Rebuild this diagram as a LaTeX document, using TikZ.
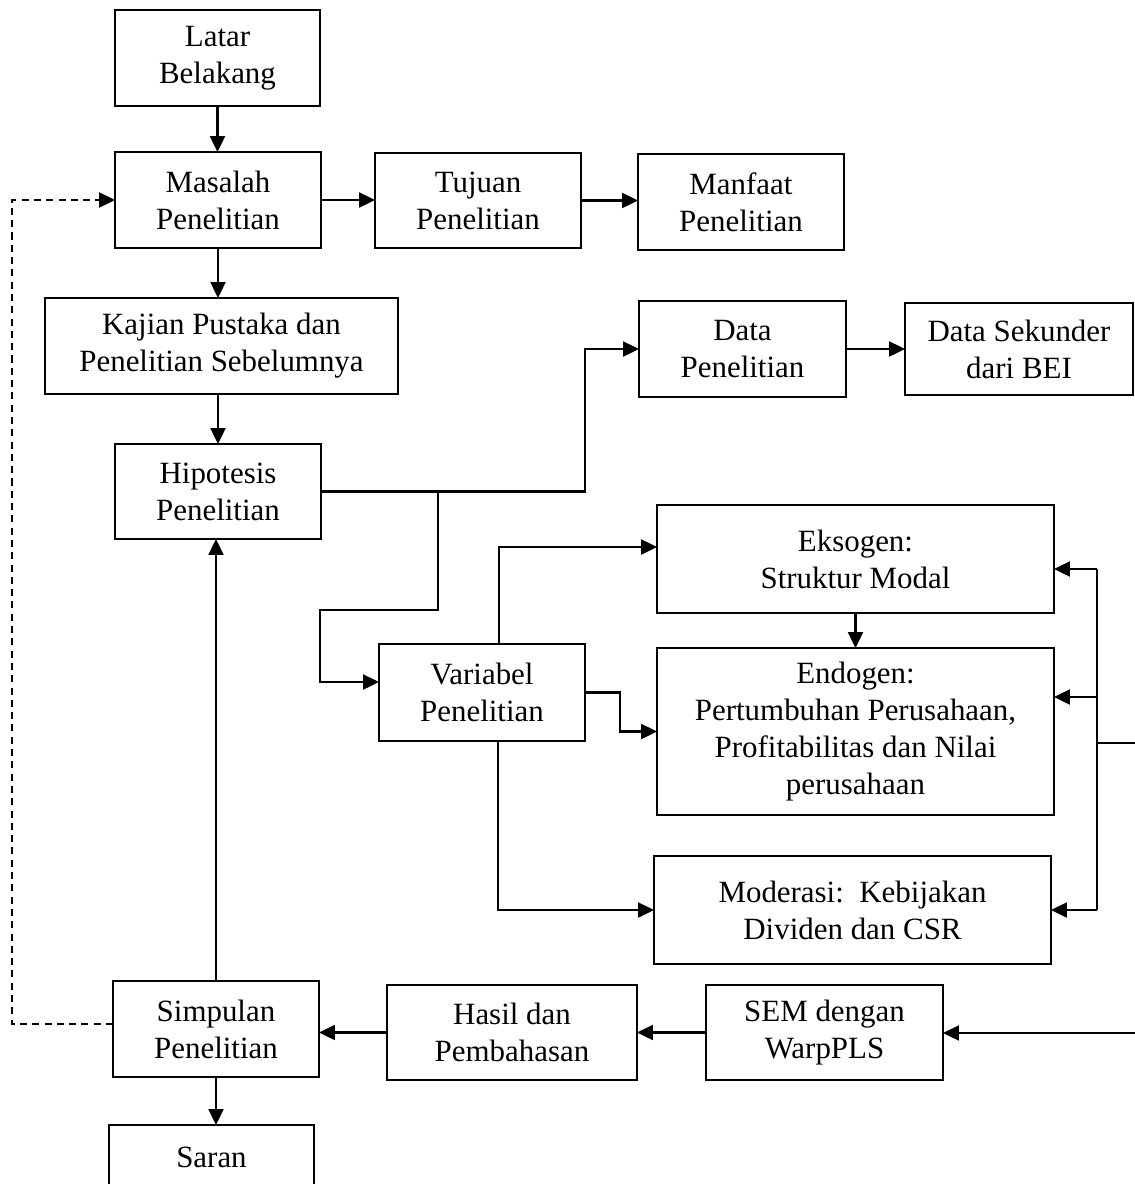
\documentclass[tikz,border=0pt]{standalone}
\usepackage{fontspec}
\setmainfont{Liberation Serif}
\usetikzlibrary{arrows.meta}

\begin{document}
\begin{tikzpicture}[x=0.02cm, y=-0.02cm, line width=1.3pt,
  every node/.style={draw, align=center, inner sep=0pt, outer sep=0pt, font=\fontsize{17.6}{21}\selectfont},
  arr/.style={-{Triangle[length=0.32cm,width=0.3cm]}}]
\useasboundingbox (0,0) rectangle (1134,1184);

\node[minimum width=4.1cm, minimum height=1.92cm] (latar) at (217.5,58) {Latar\\Belakang};
\node[minimum width=4.12cm, minimum height=1.92cm] (masalah) at (218,200) {Masalah\\Penelitian};
\node[minimum width=4.12cm, minimum height=1.9cm] (tujuan) at (478,200.5) {Tujuan\\Penelitian};
\node[minimum width=4.12cm, minimum height=1.92cm] (manfaat) at (741,202) {Manfaat\\Penelitian};
\node[minimum width=7.06cm, minimum height=1.92cm] (kajian) at (221.5,346) {Kajian Pustaka dan\\Penelitian Sebelumnya};
\node[minimum width=4.12cm, minimum height=1.9cm] (hipotesis) at (218,491.5) {Hipotesis\\Penelitian};
\node[minimum width=4.14cm, minimum height=1.92cm] (data) at (742.5,349) {Data\\Penelitian};
\node[minimum width=4.56cm, minimum height=1.84cm] (sekunder) at (1019,349) {Data Sekunder\\dari BEI};

\node[minimum width=7.94cm, minimum height=2.16cm] (eksogen) at (855.5,559) {Eksogen:\\Struktur Modal};
\node[minimum width=7.94cm, minimum height=3.34cm] (endogen) at (855.5,731.5) {Endogen:\\Pertumbuhan Perusahaan,\\Profitabilitas dan Nilai\\perusahaan};
\node[minimum width=4.12cm, minimum height=1.94cm] (variabel) at (482,692.5) {Variabel\\Penelitian};
\node[minimum width=7.94cm, minimum height=2.16cm] (moderasi) at (852.5,910) {Moderasi:\ \ Kebijakan\\Dividen dan CSR};

\node[minimum width=4.12cm, minimum height=1.92cm] (simpulan) at (216,1029) {Simpulan\\Penelitian};
\node[minimum width=5cm, minimum height=1.9cm] (hasil) at (512,1032.5) {Hasil dan\\Pembahasan};
\node[minimum width=4.74cm, minimum height=1.9cm] (sem) at (824.5,1032.5) {SEM dengan\\WarpPLS};
\node[minimum width=4.1cm, minimum height=1.3cm] (saran) at (211.5,1157.5) {Saran};

% junctions
\coordinate (j1) at (585,491.5);
\coordinate (j2) at (438,491.5);
\coordinate (j3) at (320,610);
\coordinate (b1) at (1097,569);
\coordinate (b2) at (1097,697);
\coordinate (b3) at (1097,910);
\coordinate (out) at (1140,743);
\coordinate (in) at (1140,1033);
\coordinate (dl) at (12,600);

\draw[arr] (latar.south) -- (latar.south |- masalah.north);
\draw[arr] (masalah.east) -- (masalah.east -| tujuan.west);
\draw[arr] (tujuan.east) -- (tujuan.east -| manfaat.west);
\draw[arr] (masalah.south) -- (masalah.south |- kajian.north);
\draw[arr] (hipotesis.north |- kajian.south) -- (hipotesis.north);
\draw[arr] (data.east) -- (data.east -| sekunder.west);

\draw[arr] (hipotesis.east) -- (j1) |- (data.west);
\draw[arr] (j2) |- (j3) |- ([yshift=0.21cm]variabel.west);
\draw[arr] ([xshift=0.34cm]variabel.north) |- ([yshift=0.24cm]eksogen.west);
\draw[arr] (variabel.east) -- ++(35,0) |- (endogen.west);
\draw[arr] ([xshift=0.32cm]variabel.south) |- (moderasi.west);
\draw[arr] (eksogen.south) -- (endogen.north);

\draw (b1) -- (b3);
\draw (out) -- (out -| b1);
\draw[arr] (b1) -- (eksogen.east |- b1);
\draw[arr] (b2) -- (endogen.east |- b2);
\draw[arr] (b3) -- (moderasi.east |- b3);

\draw[arr] (in) -- (sem.east |- in);
\draw[arr] (sem.west) -- (sem.west -| hasil.east);
\draw[arr] (hasil.west) -- (hasil.west -| simpulan.east);
\draw[arr] (simpulan.north) -- (simpulan.north |- hipotesis.south);
\draw[arr] (simpulan.south) -- (simpulan.south |- saran.north);
\draw[arr, dash pattern=on 4pt off 3pt] ([yshift=0.1cm]simpulan.west) -| (dl) |- (masalah.west);
\end{tikzpicture}
\end{document}
